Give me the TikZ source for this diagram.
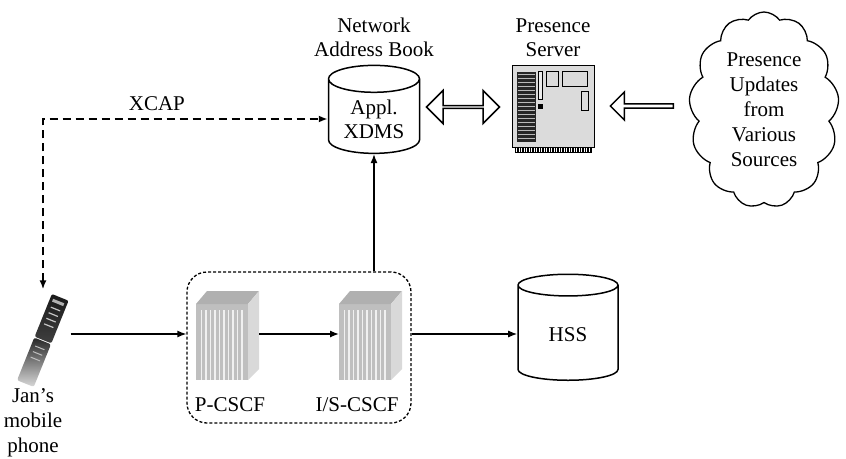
\documentclass[tikz,border=0pt]{standalone}
\usepackage{fontspec}
\setmainfont{Liberation Serif}
\usepackage{tikz}
\usetikzlibrary{shapes.geometric, shapes.arrows, shapes.symbols, arrows.meta, positioning}

\tikzset{
  lbl/.style={align=center, font=\fontsize{21}{24}\selectfont},
  db/.style={cylinder, shape border rotate=90, draw, line width=1.5pt, lbl},
  hollow/.style={draw, line width=1.5pt, fill=white, inner sep=0pt},
  xcap/.style={line width=2.5pt, dash pattern=on 8pt off 5pt},
  imsbox/.style={draw, line width=1.3pt, dash pattern=on 3pt off 2pt, rounded corners=20pt},
  % rack of the call session control functions
  rack/.pic={
    \fill[gray!50] (-26,-38) rectangle (26,38);
    \fill[gray!62] (-26,-38) -- (-15,-51) -- (37,-51) -- (26,-38) -- cycle;
    \fill[gray!30] (26,-38) -- (37,-51) -- (37,27) -- (26,38) -- cycle;
    \foreach \i in {0,...,9}
      \fill[gray!12] (-21.5+\i*4.5,-32) rectangle ++(1.8,70);
    \coordinate (-in) at (-26,-8);
    \coordinate (-out) at (37,-8);
  }
}

\begin{document}
\begin{tikzpicture}[x=1pt, y=-1pt, >={Latex[length=9pt,width=7pt]}, line width=1.3pt]
  \useasboundingbox (0,0) rectangle (846,458);

  % handset
  \node (phone) [minimum width=54pt, minimum height=100pt, inner sep=0pt] at (43,340) {};
  \begin{scope}[shift={(phone.center)}, rotate=-22]
    \shade[top color=black!90, bottom color=black!75, rounded corners=2pt] (-9,-46) rectangle (9,0);
    \shade[top color=black!85, bottom color=black!15, rounded corners=2pt] (-9,1) rectangle (9,47);
    \fill[gray!60] (-6,-42) rectangle (6,-39);
    \foreach \r in {-34,-28,-22,-16} \fill[gray!45] (-5,\r) rectangle (5,\r+1.2);
    \foreach \r in {8,14,20} \fill[gray!50] (-5,\r) rectangle (5,\r+1);
  \end{scope}
  \node (janlbl) [lbl, font=\fontsize{21}{25}\selectfont, below=-6pt of phone, xshift=-10pt]
    {Jan's\\mobile\\phone};

  % IMS core
  \node (ims) [imsbox, minimum width=224pt, minimum height=151pt] at (299,347.5) {};
  \pic (pcscf) at (222,342) {rack};
  \pic (iscscf) at (365,342) {rack};
  \node (plbl) [lbl] at (230,405) {P-CSCF};
  \node (islbl) [lbl] at (357,405) {I/S-CSCF};

  \node (hss) [db, minimum width=100pt, minimum height=106pt, aspect=0.48] at (568,335) {HSS};

  \node (xdms) [db, minimum width=91pt, minimum height=88pt, aspect=0.4] at (374,119) {Appl.\\XDMS};
  \node (nablbl) [lbl, above=4pt of xdms] {Network\\Address Book};

  \node (dbl) [hollow, double arrow, minimum height=73pt, minimum width=33pt,
    double arrow head extend=8pt] at (463,107) {};

  % presence server
  \node (ps) [draw, line width=1pt, fill=gray!28, minimum width=82pt, minimum height=82pt] at (553,106) {};
  \begin{scope}[shift={(ps.north west)}, line width=0.8pt]
    \fill[black!85] (5,7) rectangle (24,77);
    \foreach \r in {10,14,...,74} \draw[gray!55, line width=0.7pt] (6,\r) -- (23,\r);
    \draw[fill=gray!15] (27,7) rectangle (31,35);
    \draw[fill=black] (26.5,40) rectangle (30.5,44);
    \draw (35,7) rectangle (47,22);
    \draw (51,7) rectangle (76,22);
    \draw (70,27) rectangle (77,46);
    \fill[black] (3,82) rectangle (80,88);
    \foreach \c in {5,7.5,...,78} \draw[white, line width=0.6pt] (\c,83) -- (\c,87);
  \end{scope}
  \node (pslbl) [lbl, above=4pt of ps] {Presence\\Server};

  \node (larr) [hollow, single arrow, shape border rotate=180, minimum height=63pt,
    minimum width=28pt, single arrow head extend=4pt] at (643,106) {};

  \node (src) [cloud, draw, line width=1.3pt, cloud puffs=13, cloud puff arc=110, aspect=0.75,
    minimum width=150pt, minimum height=196pt, lbl, font=\fontsize{21}{25}\selectfont] at (764,110)
    {Presence\\Updates\\from\\Various\\Sources};

  % connectors
  \draw[->] (phone.east |- pcscf-in) -- (ims.west |- pcscf-in);
  \draw[->] (pcscf-out) -- (iscscf-in);
  \draw[->] (ims.east |- iscscf-out) -- (hss.west |- iscscf-out);
  \draw[->] (ims.north -| xdms) -- (xdms.bottom);
  \draw[<->, xcap] (phone.north) |- node (xcaplbl) [lbl, pos=0.7, above=4pt] {XCAP} (xdms.west);
\end{tikzpicture}
\end{document}
